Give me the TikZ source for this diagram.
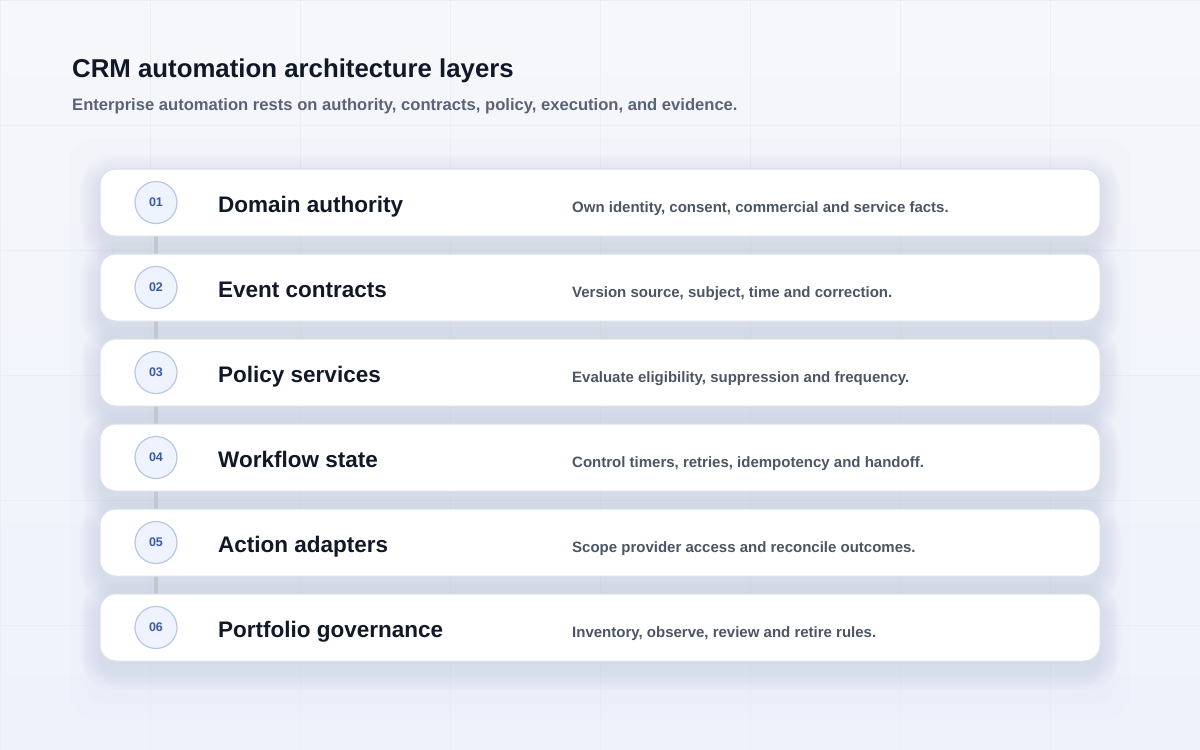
\documentclass[tikz,border=0pt]{standalone}
\usepackage{fontspec}
\setmainfont{Liberation Sans}
\usetikzlibrary{backgrounds}
\definecolor{paper}{HTML}{F6F7FB}
\definecolor{paperlow}{HTML}{EEF2FB}
\definecolor{gridc}{HTML}{EBEEF5}
\definecolor{ink}{HTML}{111827}
\definecolor{subink}{HTML}{5A6375}
\definecolor{descink}{HTML}{4B5563}
\definecolor{cardline}{HTML}{DCE1EB}
\definecolor{badgefill}{HTML}{EEF3FD}
\definecolor{badgeline}{HTML}{B7C8E6}
\definecolor{badgeink}{HTML}{3A5AA6}
\definecolor{spine}{HTML}{C3C7D0}
\definecolor{shadowc}{HTML}{5A6588}
% soft shadow under one card
\newcommand{\lift}[1]{%
  \foreach \s in {2,5,...,20}
    \fill[shadowc,opacity=0.014,rounded corners=16pt+\s pt]
      ([shift={(-\s,-\s+8)}]#1.north west) rectangle ([shift={(\s,\s+8)}]#1.south east);}
\begin{document}
\begin{tikzpicture}[x=1pt,y=-1pt]
  \tikzstyle{layer}=[rectangle,draw=cardline,line width=1pt,fill=white,rounded corners=16pt,minimum width=1000pt,minimum height=67pt,inner sep=0pt]
  \tikzstyle{badge}=[circle,draw=badgeline,line width=1.2pt,fill=badgefill,minimum size=42pt,inner sep=0pt,text=badgeink,font=\fontsize{12.5}{13}\selectfont\bfseries]
  \tikzstyle{layertitle}=[anchor=base west,inner sep=0pt,text=ink,font=\fontsize{22.5}{26}\selectfont\bfseries]
  \tikzstyle{layerdesc}=[anchor=base west,inner sep=0pt,text=descink,font=\fontsize{15}{18}\selectfont\bfseries]
  \tikzstyle{edge}=[draw=spine,line width=4pt]
  \useasboundingbox (0,0) rectangle (1200,750);

  \node [anchor=base west,inner sep=0pt,text=ink,font=\fontsize{25.8}{30}\selectfont\bfseries] (title) at (72,77) {CRM automation architecture layers};
  \node [anchor=base west,inner sep=0pt,text=subink,font=\fontsize{16.6}{19}\selectfont\bfseries] (subtitle) at (72,110) {Enterprise automation rests on authority, contracts, policy, execution, and evidence.};

  \node [layer] (c1) at (600,202.5) {};
  \node [badge] (n1) at (156,202.5) {01};
  \node [layertitle] (t1) at (218,212) {Domain authority};
  \node [layerdesc] (d1) at (572,212) {Own identity, consent, commercial and service facts.};

  \node [layer] (c2) at (600,287.5) {};
  \node [badge] (n2) at (156,287.5) {02};
  \node [layertitle] (t2) at (218,297) {Event contracts};
  \node [layerdesc] (d2) at (572,297) {Version source, subject, time and correction.};

  \node [layer] (c3) at (600,372.5) {};
  \node [badge] (n3) at (156,372.5) {03};
  \node [layertitle] (t3) at (218,382) {Policy services};
  \node [layerdesc] (d3) at (572,382) {Evaluate eligibility, suppression and frequency.};

  \node [layer] (c4) at (600,457.5) {};
  \node [badge] (n4) at (156,457.5) {04};
  \node [layertitle] (t4) at (218,467) {Workflow state};
  \node [layerdesc] (d4) at (572,467) {Control timers, retries, idempotency and handoff.};

  \node [layer] (c5) at (600,542.5) {};
  \node [badge] (n5) at (156,542.5) {05};
  \node [layertitle] (t5) at (218,552) {Action adapters};
  \node [layerdesc] (d5) at (572,552) {Scope provider access and reconcile outcomes.};

  \node [layer] (c6) at (600,627.5) {};
  \node [badge] (n6) at (156,627.5) {06};
  \node [layertitle] (t6) at (218,637) {Portfolio governance};
  \node [layerdesc] (d6) at (572,637) {Inventory, observe, review and retire rules.};

  \begin{pgfonlayer}{background}
    \shade [top color=paper,bottom color=paperlow] (0,0) rectangle (1200,750);
    \draw [gridc,line width=0.8pt,xstep=150pt,ystep=125pt] (0,0) grid (1200,750);
    % faint panel behind the stack
    \foreach \s in {0,15,30}
      \fill [shadowc,opacity=0.008,rounded corners=24pt] ([shift={(-\s,-\s)}]c1.north west) rectangle ([shift={(\s,\s+28)}]c6.south east);
    \lift{c1} \lift{c2} \lift{c3} \lift{c4} \lift{c5} \lift{c6}
    \path[edge] (n1) -- (n2);
    \path[edge] (n2) -- (n3);
    \path[edge] (n3) -- (n4);
    \path[edge] (n4) -- (n5);
    \path[edge] (n5) -- (n6);
  \end{pgfonlayer}
\end{tikzpicture}
\end{document}
